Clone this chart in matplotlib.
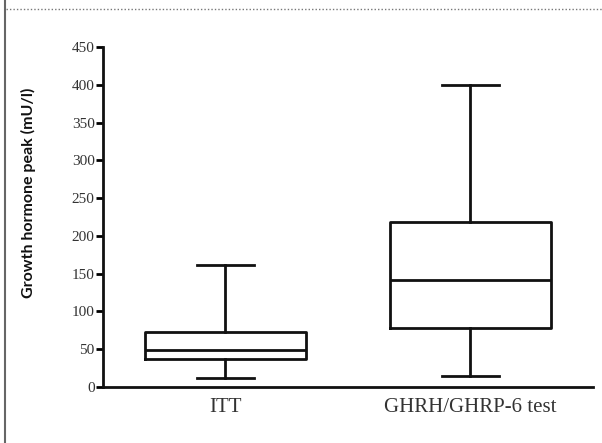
import matplotlib.pyplot as plt
from matplotlib.lines import Line2D

# valores (mU/l)
grupos = ['ITT', 'GHRH/GHRP-6 test']
minimo = [12, 14]
q1 = [37.5, 77.5]
mediana = [49, 141]
q3 = [73, 218]
maximo = [162, 400]
yticks = [0, 50, 100, 150, 200, 250, 300, 350, 400, 450]

stats = []
for i in range(len(grupos)):
    stats.append({'label': grupos[i], 'whislo': minimo[i], 'q1': q1[i],
                  'med': mediana[i], 'q3': q3[i], 'whishi': maximo[i]})

fig = plt.figure(figsize=(6.02, 4.43), dpi=100)
ax = fig.add_axes([0.171, 0.1264, 0.814, 0.7676])

estilo = dict(color='#111111', linewidth=2)
ax.bxp(stats, positions=[1, 2], widths=0.66, capwidths=0.23, showfliers=False,
       boxprops=estilo, medianprops=estilo, whiskerprops=estilo, capprops=estilo)

ax.set_xlim(0.5, 2.5)
ax.set_ylim(0, 450)
ax.set_yticks(yticks)
ax.set_yticklabels([str(v) for v in yticks], family='Liberation Serif',
                   fontsize=11, color='#333333')
ax.set_xticks([1, 2])
ax.set_xticklabels(grupos, family='Liberation Serif', fontsize=15, color='#333333')
ax.tick_params(axis='y', direction='out', length=5, width=2, pad=1)
ax.tick_params(axis='x', length=0, pad=8)
for lado in ['top', 'right']:
    ax.spines[lado].set_visible(False)
for lado in ['left', 'bottom']:
    ax.spines[lado].set_linewidth(2)
    ax.spines[lado].set_color('#111111')

fig.text(0.047, 0.565, 'Growth hormone peak (mU/l)', rotation=90, ha='center',
         va='center', family='Lato', fontweight='bold', fontsize=11.5, color='#111111')

# moldura da página
fig.add_artist(Line2D([0.009, 0.009], [0, 1], color='#666666', linewidth=1.5,
                      transform=fig.transFigure))
fig.add_artist(Line2D([0.01, 1], [0.979, 0.979], color='#777777', linewidth=1,
                      linestyle=(0, (1, 1.5)), transform=fig.transFigure))

fig.savefig('out.png', dpi=100)
